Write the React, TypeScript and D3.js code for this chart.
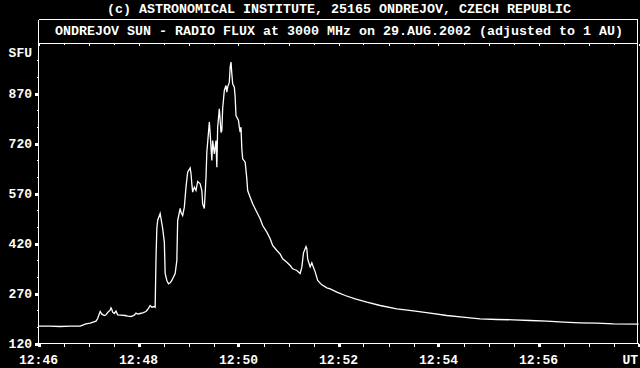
import React from "react";
import * as d3 from "d3";

// seconds after 12:46:00 UT
const timeSec = [
  0, 14, 26, 38, 50, 57, 62, 69, 71, 74, 76, 79, 81, 83, 86, 87, 88, 89, 91, 93, 95, 99, 104, 107, 111, 115, 117, 119, 122, 125, 129, 131, 134, 136, 139, 140,
  141, 142, 143, 146, 148, 149, 151, 152, 154, 156, 158, 160, 164, 166, 167, 170, 171, 173, 175, 177, 179, 182, 183, 184, 185, 187, 189, 191, 194, 196, 197, 199,
  201, 202, 205, 206, 207, 208, 209, 211, 213, 214, 215, 217, 218, 219, 220, 221, 223, 225, 226, 227, 229, 230, 231, 232, 233, 235, 236, 237, 240, 241, 242, 243,
  244, 245, 248, 250, 251, 254, 257, 261, 266, 269, 274, 278, 281, 286, 290, 293, 298, 302, 305, 310, 314, 316, 318, 321, 322, 323, 326, 328, 329, 332, 335, 340,
  346, 350, 358, 368, 380, 394, 410, 430, 450, 470, 490, 509, 530, 550, 570, 590, 610, 630, 650, 670, 690, 720,
];
const flux = [
  172, 172, 171, 172, 172, 179, 181, 187, 195, 216, 208, 204, 206, 213, 220, 227, 222, 214, 210, 217, 206, 205, 204, 202, 201, 205, 211, 208, 210, 212, 216, 222, 234, 229, 231, 229,
  375, 465, 490, 510, 480, 465, 424, 330, 309, 299, 302, 309, 330, 369, 489, 525, 514, 504, 529, 589, 634, 647, 630, 599, 574, 589, 579, 606, 599, 579, 539, 525,
  619, 694, 784, 749, 709, 669, 729, 689, 729, 649, 769, 824, 789, 753, 759, 825, 879, 894, 874, 889, 904, 949, 964, 929, 899, 889, 859, 804, 789, 769, 754, 769,
  704, 674, 664, 614, 579, 559, 539, 519, 494, 474, 454, 434, 414, 399, 388, 374, 364, 354, 344, 339, 330, 349, 392, 411, 404, 374, 350, 362, 355, 335, 309, 296,
  287, 284, 274, 264, 254, 244, 234, 224, 218, 211, 204, 199, 194, 192, 191, 189, 187, 184, 182, 181, 179, 178,
];

const yTickValues = [120, 270, 420, 570, 720, 870];
const xTickLabels = ["12:46", "12:48", "12:50", "12:52", "12:54", "12:56"];
const xTickSec = [0, 120, 240, 360, 480, 600];
const title1 = "(c) ASTRONOMICAL INSTITUTE, 25165 ONDREJOV, CZECH REPUBLIC";
const title2 = "ONDREJOV SUN - RADIO FLUX at 3000 MHz on 29.AUG.2002 (adjusted to 1 AU)";

const FONT = "'Liberation Mono', 'DejaVu Sans Mono', monospace";

export default function App() {
  const W = 640, H = 368;
  const left = 38.5, right = 637.5, top = 43.5, bottom = 343.5, boxTop = 19.5;
  const x = d3.scaleLinear().domain([0, 720]).range([38.5, 638.5]);
  const y = d3.scaleLinear().domain([120, 1023]).range([343.5, 42.5]);
  const line = d3
    .line<number>()
    .x((_, i) => x(timeSec[i]))
    .y((d) => y(d));
  const path = line(flux) || "";

  const minorX = d3.range(0, 721, 30);
  const minorY = d3.range(120, 1001, 50);

  return (
    <div style={{ position: "fixed", left: 0, top: 0, width: W, height: H, background: "#000" }}>
      <svg width={W} height={H} style={{ display: "block", background: "#000" }}>
        <rect x={0} y={0} width={W} height={H} fill="#000" />
        {/* titles */}
        <text x={339} y={13} fill="#fff" fontFamily={FONT} fontWeight="bold" fontSize={13.3}
          textAnchor="middle" textLength={464} lengthAdjust="spacingAndGlyphs">{title1}</text>
        <text x={339} y={35} fill="#fff" fontFamily={FONT} fontWeight="bold" fontSize={13.3}
          textAnchor="middle" textLength={568} lengthAdjust="spacingAndGlyphs">{title2}</text>
        {/* frame */}
        <g stroke="#fff" strokeWidth={1} shapeRendering="crispEdges" fill="none">
          <line x1={left} y1={boxTop} x2={right} y2={boxTop} />
          <line x1={left} y1={top} x2={right} y2={top} />
          <line x1={left} y1={boxTop} x2={left} y2={bottom} />
          <line x1={right} y1={boxTop} x2={right} y2={bottom} />
          <line x1={left - 1} y1={bottom} x2={639} y2={bottom} />
          {minorX.map((s) => (
            <g key={"mx" + s}>
              <line x1={Math.round(x(s)) + 0.5} y1={bottom} x2={Math.round(x(s)) + 0.5} y2={bottom + 3} />
              <line x1={Math.round(x(s)) + 0.5} y1={top} x2={Math.round(x(s)) + 0.5} y2={top + (s % 60 === 0 ? 2.5 : 1.5)} />
            </g>
          ))}
          {minorY.map((v) => (
            <line key={"my" + v} x1={left - 2} y1={Math.round(y(v)) + 0.5} x2={left} y2={Math.round(y(v)) + 0.5} />
          ))}
        </g>
        <g fill="#fff" shapeRendering="crispEdges">
          {[...xTickSec, 720].map((s) => (
            <rect key={"MX" + s} x={Math.round(x(s)) - 1} y={bottom} width={3} height={3} />
          ))}
          {yTickValues.map((v) => (
            <rect key={"MY" + v} x={35} y={Math.round(y(v)) - 1} width={3} height={3} />
          ))}
        </g>
        {/* labels */}
        <g fill="#fff" fontFamily={FONT} fontWeight="bold" fontSize={13}>
          {yTickValues.map((v) => (
            <text key={"ly" + v} x={32} y={y(v) + 4.5} textAnchor="end">{v}</text>
          ))}
          <text x={32} y={57} textAnchor="end">SFU</text>
          {xTickLabels.map((l, i) => (
            <text key={"lx" + l} x={x(xTickSec[i])} y={364} textAnchor="middle">{l}</text>
          ))}
          <text x={638} y={364} textAnchor="end">UT</text>
        </g>
        {/* data */}
        <path d={path} fill="none" stroke="#fff" strokeWidth={1.3} strokeLinejoin="miter" />
      </svg>
    </div>
  );
}
